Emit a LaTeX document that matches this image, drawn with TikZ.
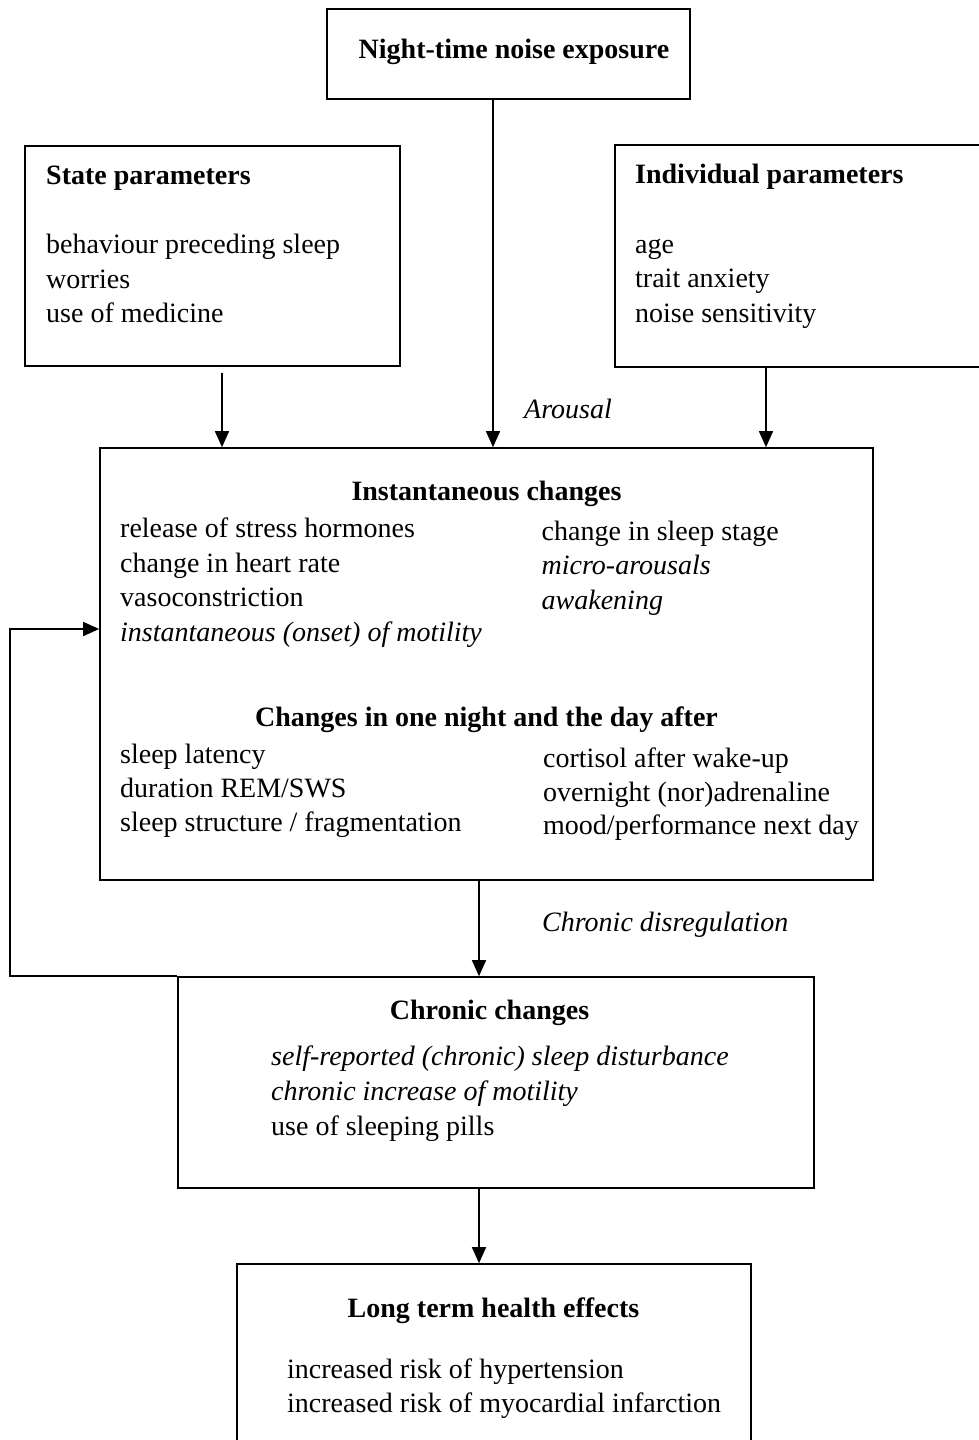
\documentclass[tikz,border=0pt]{standalone}
\usepackage{fontspec}
\setmainfont{Liberation Serif}
\usetikzlibrary{arrows.meta}
\begin{document}
\begin{tikzpicture}[x=1pt,y=-1pt,
  box/.style={draw, line width=1.6pt, inner sep=0pt},
  txt/.style={anchor=base west, inner sep=0pt, font=\fontsize{28}{34.6}\selectfont},
  itx/.style={anchor=base west, inner sep=0pt, font=\fontsize{28}{34.6}\selectfont\itshape},
  hdl/.style={anchor=base west, inner sep=0pt, font=\fontsize{28}{34.6}\selectfont\bfseries},
  hd/.style={anchor=base, inner sep=0pt, font=\fontsize{28}{34.6}\selectfont\bfseries},
  arr/.style={line width=1.5pt, -{Triangle[length=16pt,width=14pt]}}]
\useasboundingbox (0,0) rectangle (979,1440);
\clip (0,0) rectangle (979,1440);
% boxes
\node[box, minimum width=363pt, minimum height=90pt] (noise) at (508.5,54) {};
\node[box, minimum width=375pt, minimum height=220pt] (state) at (212.5,256) {};
\node[box, minimum width=380pt, minimum height=222pt] (indiv) at (805,256) {};
\node[box, minimum width=773pt, minimum height=432pt] (inst) at (486.5,664) {};
\node[box, minimum width=636pt, minimum height=211pt] (chronic) at (496,1082.5) {};
\node[box, minimum width=514pt, minimum height=196pt] (long) at (494,1362) {};
% connector columns
\coordinate (cn) at (493,0);
\coordinate (cs) at (222,0);
\coordinate (ci) at (766,0);
\coordinate (cc) at (479,0);
\coordinate (fb) at (10,0);
\coordinate (fy) at (0,629);
\draw[arr] (noise.south -| cn) -- (inst.north -| cn);
\draw[arr, shorten <=6pt] (state.south -| cs) -- (inst.north -| cs);
\draw[arr] (indiv.south -| ci) -- (inst.north -| ci);
\draw[arr] (inst.south -| cc) -- (chronic.north -| cc);
\draw[arr] (chronic.south -| cc) -- (long.north -| cc);
\draw[arr] (chronic.north west) -| (fb |- fy) -- (inst.west |- fy);
% texts
\node[hd] (tnoise) at (514,58) {Night-time noise exposure};
\node[hdl] (tstate) at (46,184) {State parameters};
\node[txt] (s1) at (46,253) {behaviour preceding sleep};
\node[txt] (s2) at (46,288) {worries};
\node[txt] (s3) at (46,322) {use of medicine};
\node[hdl] (tindiv) at (635,183) {Individual parameters};
\node[txt] (i1) at (635,253) {age};
\node[txt] (i2) at (635,287) {trait anxiety};
\node[txt] (i3) at (635,322) {noise sensitivity};
\node[itx] (arousal) at (524,418) {Arousal};
\node[hd] (tinst) at (486.5,500) {Instantaneous changes};
\node[txt] (a1) at (120,537) {release of stress hormones};
\node[txt] (a2) at (120,572) {change in heart rate};
\node[txt] (a3) at (120,606) {vasoconstriction};
\node[itx] (a4) at (120,641) {instantaneous (onset) of motility};
\node[txt] (b1) at (541.5,540) {change in sleep stage};
\node[itx] (b2) at (541.5,574) {micro-arousals};
\node[itx] (b3) at (541.5,609) {awakening};
\node[hd] (tnight) at (486.5,726) {Changes in one night and the day after};
\node[txt] (c1) at (120,763) {sleep latency};
\node[txt] (c2) at (120,797) {duration REM/SWS};
\node[txt] (c3) at (120,831) {sleep structure / fragmentation};
\node[txt] (d1) at (543,767) {cortisol after wake-up};
\node[txt] (d2) at (543,801) {overnight (nor)adrenaline};
\node[txt] (d3) at (543,834) {mood/performance next day};
\node[itx] (disreg) at (542,931) {Chronic disregulation};
\node[hd] (tchronic) at (489.5,1019) {Chronic changes};
\node[itx] (e1) at (271,1065) {self-reported (chronic) sleep disturbance};
\node[itx] (e2) at (271,1100) {chronic increase of motility};
\node[txt] (e3) at (271,1135) {use of sleeping pills};
\node[hd] (tlong) at (493.5,1317) {Long term health effects};
\node[txt] (f1) at (287,1378) {increased risk of hypertension};
\node[txt] (f2) at (287,1412) {increased risk of myocardial infarction};
\end{tikzpicture}
\end{document}
